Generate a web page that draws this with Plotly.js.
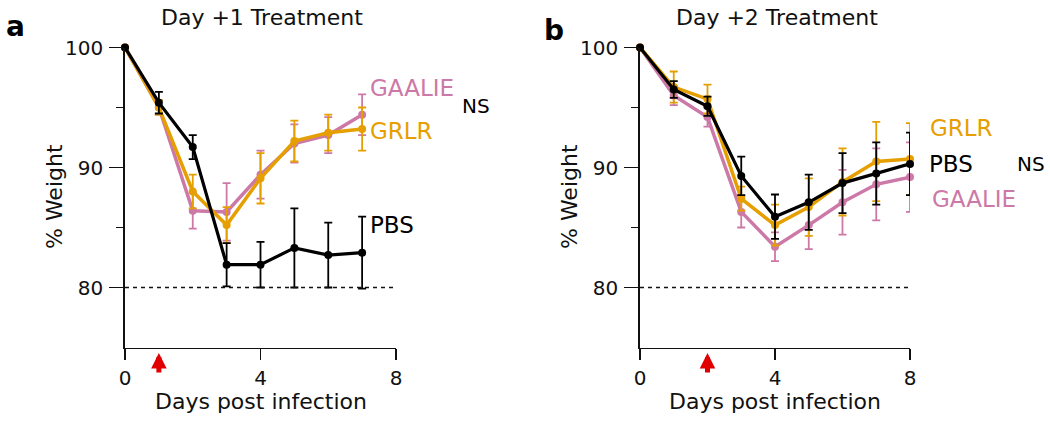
<!DOCTYPE html>
<html>
<head>
<meta charset="utf-8">
<script src="https://cdn.plot.ly/plotly-3.0.1.min.js"></script>
<style>html,body{margin:0;padding:0;background:#fff;}#chart{width:1050px;height:424px;}</style>
</head>
<body>
<div id="chart"></div>
<script>
// Panel a: Day +1 treatment
const daysA = [0, 1, 2, 3, 4, 5, 6, 7];
const pbsA = [100, 95.4, 91.7, 81.9, 81.9, 83.3, 82.7, 82.9];
const pbsAErr = [0, 0.9, 1.0, 1.8, 1.9, 3.3, 2.7, 3.0];
const gaalieA = [100, 95.0, 86.4, 86.3, 89.4, 92.0, 92.7, 94.4];
const gaalieAErr = [0, 0.6, 1.5, 2.4, 2.0, 1.6, 1.5, 1.7];
const grlrA = [100, 95.0, 88.0, 85.2, 89.1, 92.2, 92.9, 93.2];
const grlrAErr = [0, 0.6, 1.4, 1.5, 2.1, 1.7, 1.5, 1.8];

// Panel b: Day +2 treatment
const daysB = [0, 1, 2, 3, 4, 5, 6, 7, 8];
const pbsB = [100, 96.5, 95.1, 89.3, 85.9, 87.1, 88.7, 89.5, 90.3];
const pbsBErr = [0, 0.7, 0.8, 1.6, 1.85, 2.3, 2.5, 2.6, 2.6];
const grlrB = [100, 96.7, 95.7, 87.4, 85.2, 86.7, 88.8, 90.5, 90.7];
const grlrBErr = [0, 1.3, 1.2, 1.0, 1.7, 2.4, 2.8, 3.3, 3.0];
const gaalieB = [100, 96.0, 94.2, 86.3, 83.4, 85.2, 87.1, 88.6, 89.2];
const gaalieBErr = [0, 0.8, 0.8, 1.3, 1.2, 2.0, 2.7, 3.0, 2.9];

const yTicks = [80, 90, 100];
const yMinor = [85, 95];
const xTicks = [0, 4, 8];
const treatDay = [1, 2];
const panelTitles = ['Day +1 Treatment', 'Day +2 Treatment'];
const panelLetters = ['a', 'b'];

const PINK = '#CC79A7', ORANGE = '#E69F00', BLACK = '#000000';
const W = 1050, H = 424;
const px = v => v / W;
const py = v => 1 - v / H;
const FONT = 'DejaVu Sans, Arial, sans-serif';

function series(x, y, err, color, xa, ya, lw) {
  return {
    x: x, y: y, xaxis: xa, yaxis: ya, type: 'scatter', mode: 'lines+markers',
    line: {color: color, width: lw}, marker: {color: color, size: 8},
    error_y: {type: 'data', array: err, visible: true, color: color, thickness: 1.8, width: 4},
    cliponaxis: false, showlegend: false, hoverinfo: 'skip'
  };
}

const data = [
  series(daysA, gaalieA, gaalieAErr, PINK, 'x', 'y', 3.5),
  series(daysA, grlrA, grlrAErr, ORANGE, 'x', 'y', 3.5),
  series(daysA, pbsA, pbsAErr, BLACK, 'x', 'y', 3.2),
  series(daysB, gaalieB, gaalieBErr, PINK, 'x2', 'y2', 3.5),
  series(daysB, grlrB, grlrBErr, ORANGE, 'x2', 'y2', 3.5),
  series(daysB, pbsB, pbsBErr, BLACK, 'x2', 'y2', 3.2)
];

const yBox = [py(347.5), py(47.5)];
function xAxis(domain, anchor) {
  return {
    domain: domain, anchor: anchor, range: [0, 8], tickvals: xTicks,
    showline: true, linecolor: '#111', linewidth: 1.8, ticks: 'outside', ticklen: 11,
    tickwidth: 1.8, tickcolor: '#111', showgrid: false, zeroline: false,
    tickfont: {family: FONT, size: 20, color: '#111'}, ticklabelstandoff: 1, fixedrange: true
  };
}
function yAxis(anchor) {
  return {
    domain: yBox, anchor: anchor, range: [75, 100], tickvals: yTicks,
    showline: true, linecolor: '#111', linewidth: 1.8, ticks: 'outside', ticklen: 14,
    tickwidth: 1.8, tickcolor: '#111', showgrid: false, zeroline: false,
    minor: {tickmode: 'array', tickvals: yMinor, ticks: 'outside', ticklen: 7, tickwidth: 1.8, tickcolor: '#111', showgrid: false},
    tickfont: {family: FONT, size: 20, color: '#111'}, ticklabelstandoff: 2, fixedrange: true
  };
}

const axA = [125, 396], axB = [640, 910];

const annotations = [];
// panel titles
annotations.push({text: panelTitles[0], x: px(262), y: py(17), xref: 'paper', yref: 'paper', showarrow: false, xanchor: 'center', yanchor: 'middle', font: {family: FONT, size: 22, color: '#111'}});
annotations.push({text: panelTitles[1], x: px(777), y: py(17), xref: 'paper', yref: 'paper', showarrow: false, xanchor: 'center', yanchor: 'middle', font: {family: FONT, size: 22, color: '#111'}});
// panel letters
annotations.push({text: '<b>' + panelLetters[0] + '</b>', x: px(15), y: py(27), xref: 'paper', yref: 'paper', showarrow: false, xanchor: 'center', yanchor: 'middle', font: {family: FONT, size: 28, color: '#000'}});
annotations.push({text: '<b>' + panelLetters[1] + '</b>', x: px(554), y: py(30), xref: 'paper', yref: 'paper', showarrow: false, xanchor: 'center', yanchor: 'middle', font: {family: FONT, size: 28, color: '#000'}});
// axis titles
[[axA, 55], [axB, 570]].forEach(([ax, yx]) => {
  annotations.push({text: 'Days post infection', x: px((ax[0] + ax[1]) / 2), y: py(401), xref: 'paper', yref: 'paper', showarrow: false, xanchor: 'center', yanchor: 'middle', font: {family: FONT, size: 22, color: '#111'}});
  annotations.push({text: '% Weight', x: px(yx), y: py(197), xref: 'paper', yref: 'paper', showarrow: false, textangle: -90, xanchor: 'center', yanchor: 'middle', font: {family: FONT, size: 22, color: '#111'}});
});
// series labels
function lab(t, x, y, c, s) {
  annotations.push({text: t, x: px(x), y: py(y), xref: 'paper', yref: 'paper', showarrow: false, xanchor: 'left', yanchor: 'middle', font: {family: FONT, size: s, color: c}});
}
lab('GAALIE', 368, 88, PINK, 23);
lab('NS', 460, 106, '#000', 20);
lab('GRLR', 368, 131, ORANGE, 23);
lab('PBS', 368, 225, '#000', 23);
lab('GRLR', 928, 128, ORANGE, 23);
lab('PBS', 927, 164, '#000', 23);
lab('NS', 1015, 164, '#000', 20);
lab('GAALIE', 930, 199, PINK, 23);
// treatment arrows
annotations.push({x: treatDay[0], xref: 'x', y: py(353), yref: 'paper', ax: 0, ay: 21, showarrow: true, arrowhead: 2, arrowsize: 0.62, arrowwidth: 5, arrowcolor: '#e00000', text: ''});
annotations.push({x: treatDay[1], xref: 'x2', y: py(353), yref: 'paper', ax: 0, ay: 21, showarrow: true, arrowhead: 2, arrowsize: 0.62, arrowwidth: 5, arrowcolor: '#e00000', text: ''});

const shapes = [
  {type: 'line', xref: 'x', yref: 'y', x0: 0, x1: 8, y0: 80, y1: 80, line: {color: '#111', width: 1.5, dash: '4px,4px'}},
  {type: 'line', xref: 'x2', yref: 'y2', x0: 0, x1: 8, y0: 80, y1: 80, line: {color: '#111', width: 1.5, dash: '4px,4px'}}
];

const layout = {
  width: W, height: H, margin: {l: 0, r: 0, t: 0, b: 0},
  paper_bgcolor: '#fff', plot_bgcolor: '#fff', showlegend: false,
  font: {family: FONT, color: '#111'},
  xaxis: xAxis([px(axA[0]), px(axA[1])], 'y'),
  yaxis: yAxis('x'),
  xaxis2: xAxis([px(axB[0]), px(axB[1])], 'y2'),
  yaxis2: yAxis('x2'),
  annotations: annotations, shapes: shapes
};

Plotly.newPlot('chart', data, layout, {displayModeBar: false, staticPlot: true});
</script>
</body>
</html>
